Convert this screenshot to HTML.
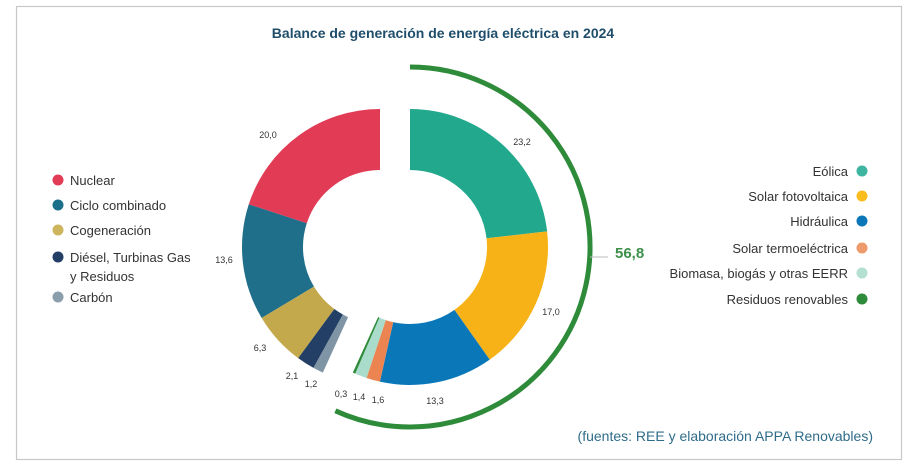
<!DOCTYPE html>
<html><head><meta charset="utf-8"><style>
body{margin:0;background:#fff;width:908px;height:468px;overflow:hidden;font-family:"Liberation Sans",sans-serif}
</style></head><body>
<svg id="s" width="908" height="468" xmlns="http://www.w3.org/2000/svg" font-family="Liberation Sans, sans-serif">
<rect x="16.5" y="6.5" width="885" height="453" fill="#fff" stroke="#c8c8c8" stroke-width="1.2"/>
<text x="443" y="38" text-anchor="middle" font-size="14" font-weight="bold" fill="#1f4e6b">Balance de generación de energía eléctrica en 2024</text>
<g id="segs"></g>
<path id="garc" fill="none" stroke="#2e8b3a" stroke-width="5"/>
<line x1="590" y1="257" x2="608" y2="257" stroke="#bbb" stroke-width="1"/>
<text x="615" y="258" font-size="15" font-weight="bold" fill="#3d8f4a">56,8</text>
<g font-size="9" fill="#333" text-anchor="middle">
<text x="522" y="145">23,2</text><text x="551" y="315">17,0</text><text x="435" y="404">13,3</text>
<text x="378" y="403">1,6</text><text x="359" y="400">1,4</text><text x="341" y="397">0,3</text>
<text x="311" y="387">1,2</text><text x="292" y="379">2,1</text><text x="260" y="351">6,3</text>
<text x="224" y="263">13,6</text><text x="268" y="138">20,0</text>
</g>
<g font-size="13" fill="#333">
<circle cx="58" cy="180" r="5.5" fill="#e23b55"/><text x="70" y="185">Nuclear</text>
<circle cx="58" cy="205" r="5.5" fill="#1c6f8a"/><text x="70" y="210">Ciclo combinado</text>
<circle cx="58" cy="230" r="5.5" fill="#cdb55e"/><text x="70" y="235">Cogeneración</text>
<circle cx="58" cy="257" r="5.5" fill="#233f66"/><text x="70" y="262">Diésel, Turbinas Gas</text><text x="70" y="281">y Residuos</text>
<circle cx="58" cy="297" r="5.5" fill="#8a9eac"/><text x="70" y="302">Carbón</text>
</g>
<g font-size="13" fill="#333" text-anchor="end">
<text x="848" y="176">Eólica</text><circle cx="862" cy="171" r="5.5" fill="#3db5a0"/>
<text x="848" y="201">Solar fotovoltaica</text><circle cx="862" cy="196" r="5.5" fill="#f9bd1e"/>
<text x="848" y="226">Hidráulica</text><circle cx="862" cy="221" r="5.5" fill="#0a78b8"/>
<text x="848" y="253">Solar termoeléctrica</text><circle cx="862" cy="248" r="5.5" fill="#ee9a6c"/>
<text x="848" y="278">Biomasa, biogás y otras EERR</text><circle cx="862" cy="273" r="5.5" fill="#b4e0d2"/>
<text x="848" y="304">Residuos renovables</text><circle cx="862" cy="299" r="5.5" fill="#2e8b3a"/>
</g>
<text x="873" y="441" text-anchor="end" font-size="14" fill="#2e6c8a">(fuentes: REE y elaboración APPA Renovables)</text>
</svg>
<script>
var g=document.getElementById('segs'),R=138,r=77;
function pt(cx,cy,rad,a){a=a*Math.PI/180;return [cx+rad*Math.sin(a),cy-rad*Math.cos(a)];}
function seg(cx,cy,a0,a1,col){var p1=pt(cx,cy,R,a0),p2=pt(cx,cy,R,a1),p3=pt(cx,cy,r,a1),p4=pt(cx,cy,r,a0);
var l=Math.abs(a1-a0)>180?1:0,sw=a1>a0?1:0;
var d='M'+p1+' A'+R+' '+R+' 0 '+l+' '+sw+' '+p2+' L'+p3+' A'+r+' '+r+' 0 '+l+' '+(1-sw)+' '+p4+'Z';
var e=document.createElementNS('http://www.w3.org/2000/svg','path');e.setAttribute('d',d);e.setAttribute('fill',col);g.appendChild(e);}
var right=[[23.2,'#22a88c'],[17,'#f6b217'],[13.3,'#0a78b8'],[1.6,'#ec8452'],[1.4,'#a9dccb'],[0.3,'#2e8b3a']];
var a=0;right.forEach(function(s){var b=a+s[0]*3.6;seg(410,247,a,b,s[1]);a=b;});
var left=[[20,'#e23b55'],[13.6,'#1f6f8a'],[6.3,'#c4a94c'],[2.1,'#233f66'],[1.2,'#7f95a5']];
a=360;left.forEach(function(s){var b=a-s[0]*3.6;seg(380,247,a,b,s[1]);a=b;});
var q1=pt(410,247,180,0),q2=pt(410,247,180,204.5);
document.getElementById('garc').setAttribute('d','M'+q1+' A180 180 0 1 1 '+q2);
</script>
</body></html>
